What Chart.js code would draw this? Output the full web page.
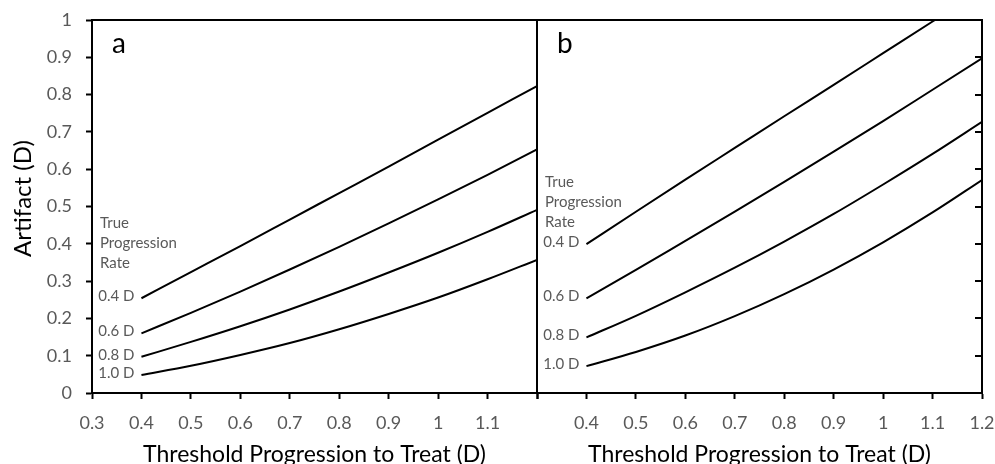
<!DOCTYPE html>
<html>
<head>
<meta charset="utf-8">
<script src="https://cdn.jsdelivr.net/npm/chart.js@4.4.0/dist/chart.umd.min.js"></script>
<style>
  html, body { margin: 0; padding: 0; background: #fff; }
  #quadro { position: relative; width: 995px; height: 464px; overflow: hidden; }
  #quadro canvas { position: absolute; top: 0; }
  #graficoA { left: 0; }
  #graficoB { left: 500px; }
</style>
</head>
<body>
<div id="quadro">
  <canvas id="graficoA" width="540" height="464"></canvas>
  <canvas id="graficoB" width="495" height="464"></canvas>
</div>
<script>
// Dados (limiar de progressão x artefato)
const limiares = [0.4, 0.5, 0.6, 0.7, 0.8, 0.9, 1.0, 1.1, 1.2];
const taxas = ['0.4 D', '0.6 D', '0.8 D', '1.0 D'];

const painelA_04 = [0.254, 0.324, 0.394, 0.465, 0.536, 0.607, 0.679, 0.751, 0.823];
const painelA_06 = [0.160, 0.215, 0.272, 0.331, 0.392, 0.455, 0.519, 0.585, 0.653];
const painelA_08 = [0.097, 0.137, 0.179, 0.224, 0.272, 0.323, 0.376, 0.432, 0.491];
const painelA_10 = [0.048, 0.073, 0.102, 0.134, 0.171, 0.212, 0.256, 0.305, 0.357];

const painelB_04 = [0.399, 0.486, 0.572, 0.657, 0.742, 0.826, 0.911, 0.996, 1.080];
const painelB_06 = [0.254, 0.330, 0.408, 0.486, 0.566, 0.647, 0.729, 0.813, 0.897];
const painelB_08 = [0.149, 0.207, 0.270, 0.336, 0.406, 0.480, 0.559, 0.641, 0.727];
const painelB_10 = [0.072, 0.110, 0.154, 0.206, 0.265, 0.331, 0.404, 0.484, 0.571];

const ticksX = [0.3, 0.4, 0.5, 0.6, 0.7, 0.8, 0.9, 1.0, 1.1, 1.2];
const ticksY = [0, 0.1, 0.2, 0.3, 0.4, 0.5, 0.6, 0.7, 0.8, 0.9, 1.0];
const cabecalho = ['True', 'Progression', 'Rate'];

Chart.defaults.font.family = "Lato, 'Open Sans', sans-serif";
Chart.defaults.color = '#595959';

const CINZA = '#595959';

// moldura (topo/direita), ticks internos, letra do painel e rótulos das curvas
const moldura = {
  id: 'moldura',
  afterDraw(chart, args, opts) {
    const { ctx, chartArea: { left, right, top, bottom }, scales: { x, y } } = chart;
    ctx.save();
    ctx.strokeStyle = '#000';
    ctx.lineWidth = 2;
    ctx.beginPath();
    ctx.moveTo(left - 1, top);
    ctx.lineTo(right, top);
    ctx.lineTo(right, bottom + 1);
    ctx.stroke();

    if (opts.ticksDireita) {
      ctx.beginPath();
      ticksY.forEach(v => {
        const py = Math.round(y.getPixelForValue(v));
        ctx.moveTo(right, py);
        ctx.lineTo(right - 7, py);
      });
      ctx.stroke();
    }

    ctx.fillStyle = '#000';
    ctx.font = '28px Lato';
    ctx.textAlign = 'left';
    ctx.textBaseline = 'alphabetic';
    ctx.fillText(opts.letra, left + 20, top + 33);

    // título do eixo y (um pouco acima do centro, como no original)
    if (opts.tituloY) {
      ctx.save();
      ctx.translate(23, (top + bottom) / 2 - 8);
      ctx.rotate(-Math.PI / 2);
      ctx.font = '24px Lato';
      ctx.textAlign = 'center';
      ctx.textBaseline = 'middle';
      ctx.fillText(opts.tituloY, 0, 0);
      ctx.restore();
    }

    ctx.font = '15px Lato';
    ctx.fillStyle = CINZA;
    ctx.textAlign = 'right';
    ctx.textBaseline = 'middle';
    chart.data.datasets.forEach(ds => {
      const p = ds.data[0];
      ctx.fillText(ds.label, x.getPixelForValue(p.x) - 7, y.getPixelForValue(p.y) - 2);
    });

    ctx.textAlign = 'left';
    cabecalho.forEach((t, i) => ctx.fillText(t, left + 8, opts.cabecalhoY + i * 20));
    ctx.restore();
  }
};

const montarSeries = (listas) => listas.map((valores, i) => ({
  label: taxas[i],
  data: limiares.map((lx, j) => ({ x: lx, y: valores[j] })),
  borderColor: '#000',
  borderWidth: 2,
  pointRadius: 0,
  cubicInterpolationMode: 'monotone',
  fill: false,
}));

const eixoX = (ocultar) => ({
  type: 'linear',
  min: 0.3,
  max: 1.2,
  afterBuildTicks: s => { s.ticks = ticksX.map(v => ({ value: v })); },
  afterFit: s => {
    s.height = 71;
    s.paddingLeft = 0;
    s.paddingRight = 0;
  },
  ticks: {
    padding: 13,
    font: { size: 18 },
    color: CINZA,
    callback: v => (Math.abs(v - ocultar) < 1e-6 ? '' : String(+v.toFixed(1))),
  },
  grid: { drawOnChartArea: false, drawTicks: true, tickLength: 6, tickWidth: 2, tickColor: '#000' },
  border: { display: true, color: '#000', width: 2 },
  title: {
    display: true,
    text: 'Threshold Progression to Treat (D)',
    color: '#000',
    font: { size: 23 },
    padding: { top: 0, bottom: -4 },
  },
});

const opcoesBase = {
  responsive: false,
  animation: false,
  events: [],
  plugins: { legend: { display: false }, tooltip: { enabled: false } },
};

new Chart(document.getElementById('graficoA'), {
  type: 'line',
  data: { datasets: montarSeries([painelA_04, painelA_06, painelA_08, painelA_10]) },
  options: {
    ...opcoesBase,
    layout: { padding: { left: 0, right: 3, top: 20, bottom: 0 } },
    scales: {
      x: eixoX(1.2),
      y: {
        min: 0,
        max: 1,
        afterBuildTicks: s => { s.ticks = ticksY.map(v => ({ value: v })); },
        afterFit: s => {
          s.width = 92;
          s.paddingTop = 0;
          s.paddingBottom = 0;
        },
        ticks: {
          padding: 14,
          font: { size: 18 },
          color: CINZA,
          callback: v => String(+v.toFixed(1)),
        },
        grid: { drawOnChartArea: false, drawTicks: true, tickLength: 6, tickWidth: 2, tickColor: '#000' },
        border: { display: true, color: '#000', width: 2 },
      },
    },
    plugins: {
      ...opcoesBase.plugins,
      moldura: { letra: 'a', cabecalhoY: 223, ticksDireita: false, tituloY: 'Artifact (D)' },
    },
  },
  plugins: [moldura],
});

new Chart(document.getElementById('graficoB'), {
  type: 'line',
  data: { datasets: montarSeries([painelB_04, painelB_06, painelB_08, painelB_10]) },
  options: {
    ...opcoesBase,
    layout: { padding: { left: 0, right: 13, top: 20, bottom: 0 } },
    scales: {
      x: eixoX(0.3),
      y: {
        min: 0,
        max: 1,
        afterBuildTicks: s => { s.ticks = ticksY.map(v => ({ value: v })); },
        afterFit: s => {
          s.width = 37;
          s.paddingTop = 0;
          s.paddingBottom = 0;
        },
        ticks: { display: false },
        grid: { drawOnChartArea: false, drawTicks: false },
        border: { display: true, color: '#000', width: 2 },
      },
    },
    plugins: { ...opcoesBase.plugins, moldura: { letra: 'b', cabecalhoY: 182, ticksDireita: true } },
  },
  plugins: [moldura],
});
</script>
</body>
</html>
